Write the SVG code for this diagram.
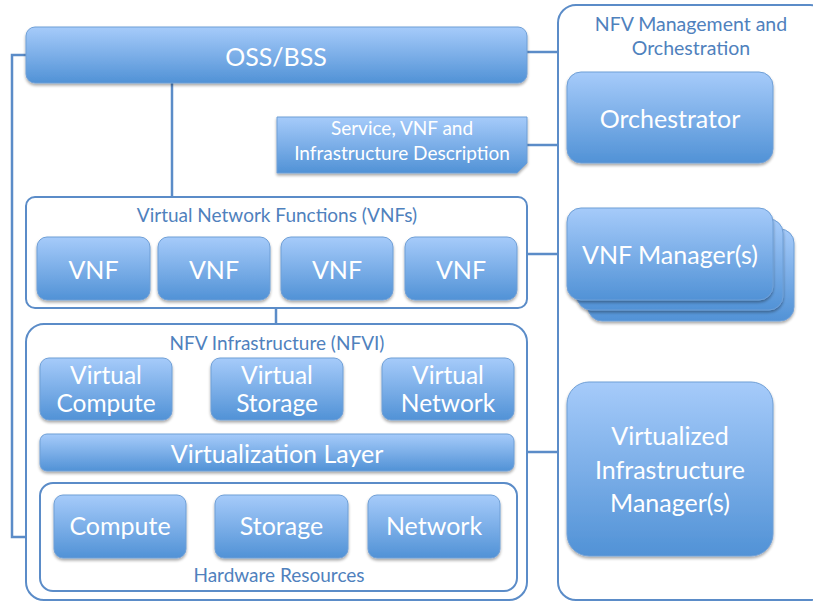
<svg xmlns="http://www.w3.org/2000/svg" width="813" height="601" viewBox="0 0 813 601">
<defs>
<linearGradient id="g" x1="0" y1="0" x2="0" y2="1">
<stop offset="0" stop-color="#a6cbfa"/>
<stop offset="1" stop-color="#5192d6"/>
</linearGradient>
<filter id="sh" x="-10%" y="-10%" width="125%" height="130%">
<feGaussianBlur in="SourceAlpha" stdDeviation="1.5"/>
<feOffset dx="0" dy="2" result="b"/>
<feComponentTransfer><feFuncA type="linear" slope="0.35"/></feComponentTransfer>
<feMerge><feMergeNode/><feMergeNode in="SourceGraphic"/></feMerge>
</filter>
</defs>
<style>
.box{fill:url(#g);stroke:#6f9fd6;stroke-width:1;filter:url(#sh)}
.cont{fill:#fff;stroke:#5b8cc8;stroke-width:2}
.t{font-family:Lato,"Liberation Sans",sans-serif;fill:#fff;text-anchor:middle;font-size:25px}
.t2{font-family:Lato,"Liberation Sans",sans-serif;fill:#fff;text-anchor:middle;font-size:24.5px}
.d{font-family:Lato,"Liberation Sans",sans-serif;fill:#fff;text-anchor:middle;font-size:19px}
.lab{font-family:Lato,"Liberation Sans",sans-serif;fill:#4f81bd;text-anchor:middle;font-size:19px}
.lab2{font-family:Lato,"Liberation Sans",sans-serif;fill:#4f81bd;text-anchor:middle;font-size:19.5px}
.conn{fill:none;stroke:#5b8cc8;stroke-width:2.5}
</style>
<rect width="813" height="601" fill="#fff"/>
<g id="connectors">
<path class="conn" d="M26,55 H12 V537 H40"/>
<path class="conn" d="M172,83 V197"/>
<path class="conn" d="M276,308 V324"/>
<path class="conn" d="M527,52 H557"/>
<path class="conn" d="M527,145 H557"/>
<path class="conn" d="M527,254 H567"/>
<path class="conn" d="M527,452 H567"/>
<path class="conn" d="M670,163 V208"/>
<path class="conn" d="M670,321 V382"/>
<path class="conn" d="M773,117 H809 V468 H773"/>
</g>
<g id="mano">
<rect class="cont" x="558" y="5" width="270" height="595" rx="18"/>
<text class="lab2" x="691" y="31">NFV Management and</text>
<text class="lab2" x="691" y="55">Orchestration</text>
</g>
<g id="oss">
<rect class="box" x="26" y="27" width="501" height="56" rx="9"/>
<text class="t" x="276" y="66">OSS/BSS</text>
</g>
<g id="desc">
<path class="box" d="M277,117 H527 V163 L517,173 H277 Z"/>
<text class="d" x="402" y="135">Service, VNF and</text>
<text class="d" x="402" y="160">Infrastructure Description</text>
</g>
<g id="vnfs">
<rect class="cont" x="26" y="197" width="501" height="111" rx="9"/>
<text class="lab" x="277" y="222">Virtual Network Functions (VNFs)</text>
</g>
<g id="vnf1"><rect class="box" x="37" y="237" width="113" height="63" rx="10"/><text class="t" x="93.5" y="279">VNF</text></g>
<g id="vnf2"><rect class="box" x="158" y="237" width="112" height="63" rx="10"/><text class="t" x="214" y="279">VNF</text></g>
<g id="vnf3"><rect class="box" x="281" y="237" width="112" height="63" rx="10"/><text class="t" x="337" y="279">VNF</text></g>
<g id="vnf4"><rect class="box" x="405" y="237" width="112" height="63" rx="10"/><text class="t" x="461" y="279">VNF</text></g>
<g id="nfvi">
<rect class="cont" x="26" y="324" width="501" height="276" rx="18"/>
<text class="lab" x="277" y="350">NFV Infrastructure (NFVI)</text>
</g>
<g id="vcompute"><rect class="box" x="40" y="358" width="132" height="62" rx="9"/><text class="t2" x="106" y="384">Virtual</text><text class="t2" x="106" y="412">Compute</text></g>
<g id="vstorage"><rect class="box" x="211" y="358" width="132" height="62" rx="9"/><text class="t2" x="277" y="384">Virtual</text><text class="t2" x="277" y="412">Storage</text></g>
<g id="vnetwork"><rect class="box" x="382" y="358" width="132" height="62" rx="9"/><text class="t2" x="448" y="384">Virtual</text><text class="t2" x="448" y="412">Network</text></g>
<g id="vlayer"><rect class="box" x="40" y="434" width="474" height="37" rx="7"/><text class="t" x="277" y="463">Virtualization Layer</text></g>
<g id="hw">
<rect class="cont" x="40" y="483" width="477" height="108" rx="13"/>
<text class="lab" x="279" y="582">Hardware Resources</text>
</g>
<g id="compute"><rect class="box" x="54" y="495" width="132" height="63" rx="9"/><text class="t" x="120" y="535">Compute</text></g>
<g id="storage"><rect class="box" x="215" y="495" width="133" height="63" rx="9"/><text class="t" x="281.5" y="535">Storage</text></g>
<g id="network"><rect class="box" x="368" y="495" width="132" height="63" rx="9"/><text class="t" x="434" y="535">Network</text></g>
<g id="orchestrator"><rect class="box" x="567" y="72" width="206" height="91" rx="14"/><text class="t" x="670" y="128">Orchestrator</text></g>
<g id="vnfm">
<rect class="box" x="588" y="229" width="206" height="92" rx="14"/>
<rect class="box" x="577" y="219" width="206" height="91" rx="14"/>
<rect class="box" x="567" y="208" width="206" height="92" rx="14"/>
<text class="t" x="670" y="264">VNF Manager(s)</text>
</g>
<g id="vim"><rect class="box" x="567" y="382" width="206" height="174" rx="22"/>
<text class="t" x="670" y="445">Virtualized</text>
<text class="t" x="670" y="479">Infrastructure</text>
<text class="t" x="670" y="512">Manager(s)</text></g>
</svg>
